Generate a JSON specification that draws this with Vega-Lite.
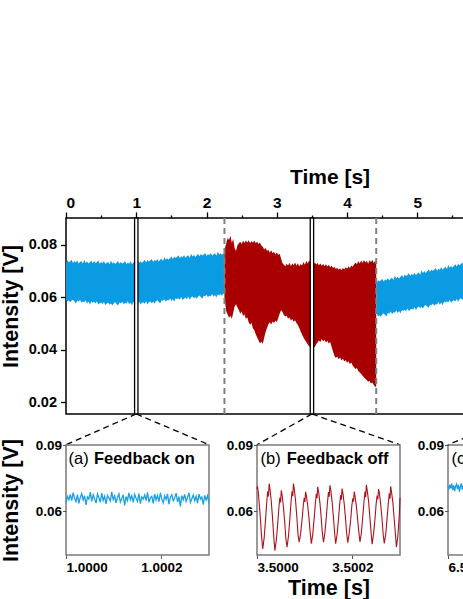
{
  "$schema": "https://vega.github.io/schema/vega-lite/v6.json",
  "autosize": "none",
  "padding": {"left": 66, "top": 218, "right": 397, "bottom": 381},
  "background": "white",
  "config": {
    "font": "Liberation Sans",
    "view": {"stroke": null},
    "axis": {"labelFont": "Liberation Sans", "labelFontWeight": "bold", "titleFont": "Liberation Sans", "titleFontWeight": "bold", "labelColor": "black", "titleColor": "black", "tickColor": "black", "domain": false, "grid": false}
  },
  "datasets": {
    "main": [
      {"g":"b1","s":"on","t":0.00,"lo":0.0592,"hi":0.0733},{"g":"b1","s":"on","t":0.02,"lo":0.0585,"hi":0.0741},{"g":"b1","s":"on","t":0.04,"lo":0.0588,"hi":0.0734},{"g":"b1","s":"on","t":0.06,"lo":0.0581,"hi":0.0737},{"g":"b1","s":"on","t":0.08,"lo":0.0588,"hi":0.0743},{"g":"b1","s":"on","t":0.10,"lo":0.0591,"hi":0.0731},{"g":"b1","s":"on","t":0.12,"lo":0.0584,"hi":0.0738},{"g":"b1","s":"on","t":0.14,"lo":0.0577,"hi":0.0733},{"g":"b1","s":"on","t":0.16,"lo":0.0588,"hi":0.0740},{"g":"b1","s":"on","t":0.18,"lo":0.0584,"hi":0.0729},
      {"g":"b1","s":"on","t":0.20,"lo":0.0590,"hi":0.0735},{"g":"b1","s":"on","t":0.22,"lo":0.0580,"hi":0.0738},{"g":"b1","s":"on","t":0.24,"lo":0.0584,"hi":0.0728},{"g":"b1","s":"on","t":0.26,"lo":0.0581,"hi":0.0743},{"g":"b1","s":"on","t":0.28,"lo":0.0589,"hi":0.0731},{"g":"b1","s":"on","t":0.30,"lo":0.0577,"hi":0.0736},{"g":"b1","s":"on","t":0.32,"lo":0.0584,"hi":0.0729},{"g":"b1","s":"on","t":0.34,"lo":0.0572,"hi":0.0734},{"g":"b1","s":"on","t":0.36,"lo":0.0585,"hi":0.0740},{"g":"b1","s":"on","t":0.38,"lo":0.0579,"hi":0.0730},
      {"g":"b1","s":"on","t":0.40,"lo":0.0583,"hi":0.0738},{"g":"b1","s":"on","t":0.42,"lo":0.0577,"hi":0.0731},{"g":"b1","s":"on","t":0.44,"lo":0.0585,"hi":0.0734},{"g":"b1","s":"on","t":0.46,"lo":0.0573,"hi":0.0740},{"g":"b1","s":"on","t":0.48,"lo":0.0578,"hi":0.0728},{"g":"b1","s":"on","t":0.50,"lo":0.0580,"hi":0.0735},{"g":"b1","s":"on","t":0.52,"lo":0.0574,"hi":0.0730},{"g":"b1","s":"on","t":0.54,"lo":0.0582,"hi":0.0738},{"g":"b1","s":"on","t":0.56,"lo":0.0570,"hi":0.0727},{"g":"b1","s":"on","t":0.58,"lo":0.0577,"hi":0.0732},
      {"g":"b1","s":"on","t":0.60,"lo":0.0580,"hi":0.0735},{"g":"b1","s":"on","t":0.62,"lo":0.0573,"hi":0.0725},{"g":"b1","s":"on","t":0.64,"lo":0.0577,"hi":0.0740},{"g":"b1","s":"on","t":0.66,"lo":0.0570,"hi":0.0729},{"g":"b1","s":"on","t":0.68,"lo":0.0578,"hi":0.0734},{"g":"b1","s":"on","t":0.70,"lo":0.0582,"hi":0.0727},{"g":"b1","s":"on","t":0.72,"lo":0.0575,"hi":0.0732},{"g":"b1","s":"on","t":0.74,"lo":0.0569,"hi":0.0738},{"g":"b1","s":"on","t":0.76,"lo":0.0580,"hi":0.0728},{"g":"b1","s":"on","t":0.78,"lo":0.0577,"hi":0.0735},
      {"g":"b1","s":"on","t":0.80,"lo":0.0583,"hi":0.0729},{"g":"b1","s":"on","t":0.82,"lo":0.0574,"hi":0.0732},{"g":"b1","s":"on","t":0.84,"lo":0.0579,"hi":0.0738},{"g":"b1","s":"on","t":0.86,"lo":0.0576,"hi":0.0726},{"g":"b1","s":"on","t":0.88,"lo":0.0585,"hi":0.0733},{"g":"b1","s":"on","t":0.90,"lo":0.0573,"hi":0.0728},{"g":"b1","s":"on","t":0.92,"lo":0.0580,"hi":0.0737},{"g":"b1","s":"on","t":0.94,"lo":0.0569,"hi":0.0726},{"g":"b1","s":"on","t":0.96,"lo":0.0583,"hi":0.0733},{"g":"b1","s":"on","t":0.98,"lo":0.0578,"hi":0.0736},
      {"g":"b1","s":"on","t":1.00,"lo":0.0582,"hi":0.0727},{"g":"b1","s":"on","t":1.02,"lo":0.0576,"hi":0.0742},{"g":"b1","s":"on","t":1.04,"lo":0.0585,"hi":0.0732},{"g":"b1","s":"on","t":1.06,"lo":0.0573,"hi":0.0737},{"g":"b1","s":"on","t":1.08,"lo":0.0579,"hi":0.0731},{"g":"b1","s":"on","t":1.10,"lo":0.0581,"hi":0.0736},{"g":"b1","s":"on","t":1.12,"lo":0.0576,"hi":0.0743},{"g":"b1","s":"on","t":1.14,"lo":0.0585,"hi":0.0733},{"g":"b1","s":"on","t":1.16,"lo":0.0573,"hi":0.0742},{"g":"b1","s":"on","t":1.18,"lo":0.0581,"hi":0.0736},
      {"g":"b1","s":"on","t":1.20,"lo":0.0584,"hi":0.0740},{"g":"b1","s":"on","t":1.22,"lo":0.0578,"hi":0.0746},{"g":"b1","s":"on","t":1.24,"lo":0.0583,"hi":0.0735},{"g":"b1","s":"on","t":1.26,"lo":0.0577,"hi":0.0742},{"g":"b1","s":"on","t":1.28,"lo":0.0585,"hi":0.0738},{"g":"b1","s":"on","t":1.30,"lo":0.0589,"hi":0.0746},{"g":"b1","s":"on","t":1.32,"lo":0.0583,"hi":0.0736},{"g":"b1","s":"on","t":1.34,"lo":0.0577,"hi":0.0743},{"g":"b1","s":"on","t":1.36,"lo":0.0589,"hi":0.0747},{"g":"b1","s":"on","t":1.38,"lo":0.0587,"hi":0.0738},
      {"g":"b1","s":"on","t":1.40,"lo":0.0593,"hi":0.0753},{"g":"b1","s":"on","t":1.42,"lo":0.0584,"hi":0.0743},{"g":"b1","s":"on","t":1.44,"lo":0.0590,"hi":0.0749},{"g":"b1","s":"on","t":1.46,"lo":0.0588,"hi":0.0743},{"g":"b1","s":"on","t":1.48,"lo":0.0597,"hi":0.0749},{"g":"b1","s":"on","t":1.50,"lo":0.0586,"hi":0.0755},{"g":"b1","s":"on","t":1.52,"lo":0.0594,"hi":0.0746},{"g":"b1","s":"on","t":1.54,"lo":0.0583,"hi":0.0755},{"g":"b1","s":"on","t":1.56,"lo":0.0597,"hi":0.0750},{"g":"b1","s":"on","t":1.58,"lo":0.0593,"hi":0.0754},
      {"g":"b1","s":"on","t":1.60,"lo":0.0597,"hi":0.0760},{"g":"b1","s":"on","t":1.62,"lo":0.0592,"hi":0.0749},{"g":"b1","s":"on","t":1.64,"lo":0.0601,"hi":0.0757},{"g":"b1","s":"on","t":1.66,"lo":0.0590,"hi":0.0752},{"g":"b1","s":"on","t":1.68,"lo":0.0596,"hi":0.0761},{"g":"b1","s":"on","t":1.70,"lo":0.0599,"hi":0.0750},{"g":"b1","s":"on","t":1.72,"lo":0.0593,"hi":0.0756},{"g":"b1","s":"on","t":1.74,"lo":0.0603,"hi":0.0760},{"g":"b1","s":"on","t":1.76,"lo":0.0591,"hi":0.0750},{"g":"b1","s":"on","t":1.78,"lo":0.0600,"hi":0.0766},
      {"g":"b1","s":"on","t":1.80,"lo":0.0603,"hi":0.0755},{"g":"b1","s":"on","t":1.82,"lo":0.0597,"hi":0.0761},{"g":"b1","s":"on","t":1.84,"lo":0.0601,"hi":0.0754},{"g":"b1","s":"on","t":1.86,"lo":0.0595,"hi":0.0759},{"g":"b1","s":"on","t":1.88,"lo":0.0603,"hi":0.0766},{"g":"b1","s":"on","t":1.90,"lo":0.0607,"hi":0.0756},{"g":"b1","s":"on","t":1.92,"lo":0.0600,"hi":0.0765},{"g":"b1","s":"on","t":1.94,"lo":0.0595,"hi":0.0759},{"g":"b1","s":"on","t":1.96,"lo":0.0606,"hi":0.0763},{"g":"b1","s":"on","t":1.98,"lo":0.0604,"hi":0.0769},
      {"g":"b1","s":"on","t":2.00,"lo":0.0610,"hi":0.0757},{"g":"b1","s":"on","t":2.02,"lo":0.0601,"hi":0.0765},{"g":"b1","s":"on","t":2.04,"lo":0.0606,"hi":0.0760},{"g":"b1","s":"on","t":2.06,"lo":0.0604,"hi":0.0769},{"g":"b1","s":"on","t":2.08,"lo":0.0613,"hi":0.0758},{"g":"b1","s":"on","t":2.10,"lo":0.0602,"hi":0.0764},{"g":"b1","s":"on","t":2.12,"lo":0.0609,"hi":0.0768},{"g":"b1","s":"on","t":2.14,"lo":0.0599,"hi":0.0758},{"g":"b1","s":"on","t":2.16,"lo":0.0612,"hi":0.0774},{"g":"b1","s":"on","t":2.18,"lo":0.0608,"hi":0.0763},
      {"g":"b1","s":"on","t":2.20,"lo":0.0612,"hi":0.0768},{"g":"b1","s":"on","t":2.22,"lo":0.0606,"hi":0.0762},{"g":"b1","s":"on","t":2.24,"lo":0.0616,"hi":0.0767},{"g":"b1","s":"on","t":2.255,"lo":0.0610,"hi":0.0766},
      {"g":"r","s":"off","t":2.255,"lo":0.0600,"hi":0.0780},{"g":"r","s":"off","t":2.28,"lo":0.0548,"hi":0.0805},{"g":"r","s":"off","t":2.30,"lo":0.0535,"hi":0.0826},{"g":"r","s":"off","t":2.32,"lo":0.0522,"hi":0.0818},{"g":"r","s":"off","t":2.34,"lo":0.0530,"hi":0.0834},{"g":"r","s":"off","t":2.36,"lo":0.0519,"hi":0.0808},{"g":"r","s":"off","t":2.38,"lo":0.0541,"hi":0.0822},{"g":"r","s":"off","t":2.40,"lo":0.0566,"hi":0.0787},{"g":"r","s":"off","t":2.42,"lo":0.0574,"hi":0.0776},{"g":"r","s":"off","t":2.44,"lo":0.0561,"hi":0.0798},
      {"g":"r","s":"off","t":2.46,"lo":0.0552,"hi":0.0806},{"g":"r","s":"off","t":2.48,"lo":0.0538,"hi":0.0812},{"g":"r","s":"off","t":2.50,"lo":0.0547,"hi":0.0803},{"g":"r","s":"off","t":2.52,"lo":0.0529,"hi":0.0815},{"g":"r","s":"off","t":2.54,"lo":0.0536,"hi":0.0807},{"g":"r","s":"off","t":2.56,"lo":0.0518,"hi":0.0816},{"g":"r","s":"off","t":2.58,"lo":0.0524,"hi":0.0809},{"g":"r","s":"off","t":2.60,"lo":0.0505,"hi":0.0817},{"g":"r","s":"off","t":2.62,"lo":0.0496,"hi":0.0806},{"g":"r","s":"off","t":2.64,"lo":0.0503,"hi":0.0814},
      {"g":"r","s":"off","t":2.66,"lo":0.0482,"hi":0.0808},{"g":"r","s":"off","t":2.68,"lo":0.0475,"hi":0.0816},{"g":"r","s":"off","t":2.70,"lo":0.0460,"hi":0.0806},{"g":"r","s":"off","t":2.72,"lo":0.0448,"hi":0.0812},{"g":"r","s":"off","t":2.74,"lo":0.0437,"hi":0.0803},{"g":"r","s":"off","t":2.76,"lo":0.0425,"hi":0.0809},{"g":"r","s":"off","t":2.78,"lo":0.0431,"hi":0.0797},{"g":"r","s":"off","t":2.80,"lo":0.0423,"hi":0.0793},{"g":"r","s":"off","t":2.82,"lo":0.0445,"hi":0.0782},{"g":"r","s":"off","t":2.84,"lo":0.0468,"hi":0.0788},
      {"g":"r","s":"off","t":2.86,"lo":0.0483,"hi":0.0776},{"g":"r","s":"off","t":2.88,"lo":0.0498,"hi":0.0781},{"g":"r","s":"off","t":2.90,"lo":0.0505,"hi":0.0770},{"g":"r","s":"off","t":2.92,"lo":0.0497,"hi":0.0779},{"g":"r","s":"off","t":2.94,"lo":0.0508,"hi":0.0768},{"g":"r","s":"off","t":2.96,"lo":0.0502,"hi":0.0774},{"g":"r","s":"off","t":2.98,"lo":0.0512,"hi":0.0763},{"g":"r","s":"off","t":3.00,"lo":0.0506,"hi":0.0771},{"g":"r","s":"off","t":3.02,"lo":0.0521,"hi":0.0762},{"g":"r","s":"off","t":3.04,"lo":0.0538,"hi":0.0766},
      {"g":"r","s":"off","t":3.06,"lo":0.0551,"hi":0.0748},{"g":"r","s":"off","t":3.08,"lo":0.0545,"hi":0.0731},{"g":"r","s":"off","t":3.10,"lo":0.0533,"hi":0.0724},{"g":"r","s":"off","t":3.12,"lo":0.0527,"hi":0.0718},{"g":"r","s":"off","t":3.14,"lo":0.0531,"hi":0.0728},{"g":"r","s":"off","t":3.16,"lo":0.0519,"hi":0.0721},{"g":"r","s":"off","t":3.18,"lo":0.0524,"hi":0.0732},{"g":"r","s":"off","t":3.20,"lo":0.0512,"hi":0.0719},{"g":"r","s":"off","t":3.22,"lo":0.0518,"hi":0.0729},{"g":"r","s":"off","t":3.24,"lo":0.0507,"hi":0.0722},
      {"g":"r","s":"off","t":3.26,"lo":0.0513,"hi":0.0733},{"g":"r","s":"off","t":3.28,"lo":0.0502,"hi":0.0720},{"g":"r","s":"off","t":3.30,"lo":0.0495,"hi":0.0730},{"g":"r","s":"off","t":3.32,"lo":0.0483,"hi":0.0718},{"g":"r","s":"off","t":3.34,"lo":0.0470,"hi":0.0727},{"g":"r","s":"off","t":3.36,"lo":0.0458,"hi":0.0721},{"g":"r","s":"off","t":3.38,"lo":0.0447,"hi":0.0735},{"g":"r","s":"off","t":3.40,"lo":0.0438,"hi":0.0724},{"g":"r","s":"off","t":3.42,"lo":0.0430,"hi":0.0738},{"g":"r","s":"off","t":3.44,"lo":0.0421,"hi":0.0729},
      {"g":"r","s":"off","t":3.46,"lo":0.0414,"hi":0.0741},{"g":"r","s":"off","t":3.48,"lo":0.0410,"hi":0.0731},{"g":"r","s":"off","t":3.50,"lo":0.0406,"hi":0.0737},{"g":"r","s":"off","t":3.52,"lo":0.0415,"hi":0.0726},{"g":"r","s":"off","t":3.54,"lo":0.0409,"hi":0.0733},{"g":"r","s":"off","t":3.56,"lo":0.0422,"hi":0.0725},{"g":"r","s":"off","t":3.58,"lo":0.0428,"hi":0.0731},{"g":"r","s":"off","t":3.60,"lo":0.0436,"hi":0.0722},{"g":"r","s":"off","t":3.62,"lo":0.0430,"hi":0.0729},{"g":"r","s":"off","t":3.64,"lo":0.0441,"hi":0.0720},
      {"g":"r","s":"off","t":3.66,"lo":0.0433,"hi":0.0727},{"g":"r","s":"off","t":3.68,"lo":0.0439,"hi":0.0718},{"g":"r","s":"off","t":3.70,"lo":0.0428,"hi":0.0726},{"g":"r","s":"off","t":3.72,"lo":0.0435,"hi":0.0717},{"g":"r","s":"off","t":3.74,"lo":0.0424,"hi":0.0724},{"g":"r","s":"off","t":3.76,"lo":0.0430,"hi":0.0715},{"g":"r","s":"off","t":3.78,"lo":0.0412,"hi":0.0721},{"g":"r","s":"off","t":3.80,"lo":0.0394,"hi":0.0712},{"g":"r","s":"off","t":3.82,"lo":0.0378,"hi":0.0716},{"g":"r","s":"off","t":3.84,"lo":0.0369,"hi":0.0708},
      {"g":"r","s":"off","t":3.86,"lo":0.0375,"hi":0.0713},{"g":"r","s":"off","t":3.88,"lo":0.0364,"hi":0.0705},{"g":"r","s":"off","t":3.90,"lo":0.0371,"hi":0.0711},{"g":"r","s":"off","t":3.92,"lo":0.0360,"hi":0.0703},{"g":"r","s":"off","t":3.94,"lo":0.0367,"hi":0.0712},{"g":"r","s":"off","t":3.96,"lo":0.0356,"hi":0.0706},{"g":"r","s":"off","t":3.98,"lo":0.0362,"hi":0.0715},{"g":"r","s":"off","t":4.00,"lo":0.0351,"hi":0.0709},{"g":"r","s":"off","t":4.02,"lo":0.0357,"hi":0.0718},{"g":"r","s":"off","t":4.04,"lo":0.0346,"hi":0.0711},
      {"g":"r","s":"off","t":4.06,"lo":0.0352,"hi":0.0721},{"g":"r","s":"off","t":4.08,"lo":0.0341,"hi":0.0716},{"g":"r","s":"off","t":4.10,"lo":0.0334,"hi":0.0725},{"g":"r","s":"off","t":4.12,"lo":0.0327,"hi":0.0733},{"g":"r","s":"off","t":4.14,"lo":0.0331,"hi":0.0726},{"g":"r","s":"off","t":4.16,"lo":0.0320,"hi":0.0737},{"g":"r","s":"off","t":4.18,"lo":0.0314,"hi":0.0729},{"g":"r","s":"off","t":4.20,"lo":0.0309,"hi":0.0740},{"g":"r","s":"off","t":4.22,"lo":0.0302,"hi":0.0731},{"g":"r","s":"off","t":4.24,"lo":0.0296,"hi":0.0742},
      {"g":"r","s":"off","t":4.26,"lo":0.0290,"hi":0.0733},{"g":"r","s":"off","t":4.28,"lo":0.0285,"hi":0.0739},{"g":"r","s":"off","t":4.30,"lo":0.0279,"hi":0.0728},{"g":"r","s":"off","t":4.32,"lo":0.0283,"hi":0.0741},{"g":"r","s":"off","t":4.34,"lo":0.0272,"hi":0.0734},{"g":"r","s":"off","t":4.36,"lo":0.0276,"hi":0.0743},{"g":"r","s":"off","t":4.38,"lo":0.0266,"hi":0.0731},{"g":"r","s":"off","t":4.40,"lo":0.0259,"hi":0.0738},{"g":"r","s":"off","t":4.415,"lo":0.0262,"hi":0.0735},
      {"g":"b2","s":"on","t":4.415,"lo":0.0545,"hi":0.0650},{"g":"b2","s":"on","t":4.44,"lo":0.0527,"hi":0.0665},{"g":"b2","s":"on","t":4.46,"lo":0.0532,"hi":0.0660},{"g":"b2","s":"on","t":4.48,"lo":0.0526,"hi":0.0664},{"g":"b2","s":"on","t":4.50,"lo":0.0535,"hi":0.0671},{"g":"b2","s":"on","t":4.52,"lo":0.0539,"hi":0.0660},{"g":"b2","s":"on","t":4.54,"lo":0.0533,"hi":0.0668},{"g":"b2","s":"on","t":4.56,"lo":0.0527,"hi":0.0664},{"g":"b2","s":"on","t":4.58,"lo":0.0540,"hi":0.0674},{"g":"b2","s":"on","t":4.60,"lo":0.0538,"hi":0.0664},
      {"g":"b2","s":"on","t":4.62,"lo":0.0546,"hi":0.0671},{"g":"b2","s":"on","t":4.64,"lo":0.0537,"hi":0.0675},{"g":"b2","s":"on","t":4.66,"lo":0.0543,"hi":0.0666},{"g":"b2","s":"on","t":4.68,"lo":0.0541,"hi":0.0682},{"g":"b2","s":"on","t":4.70,"lo":0.0551,"hi":0.0672},{"g":"b2","s":"on","t":4.72,"lo":0.0540,"hi":0.0678},{"g":"b2","s":"on","t":4.74,"lo":0.0548,"hi":0.0672},{"g":"b2","s":"on","t":4.76,"lo":0.0539,"hi":0.0678},{"g":"b2","s":"on","t":4.78,"lo":0.0552,"hi":0.0685},{"g":"b2","s":"on","t":4.80,"lo":0.0548,"hi":0.0676},
      {"g":"b2","s":"on","t":4.82,"lo":0.0553,"hi":0.0686},{"g":"b2","s":"on","t":4.84,"lo":0.0548,"hi":0.0681},{"g":"b2","s":"on","t":4.86,"lo":0.0558,"hi":0.0685},{"g":"b2","s":"on","t":4.88,"lo":0.0547,"hi":0.0692},{"g":"b2","s":"on","t":4.90,"lo":0.0554,"hi":0.0681},{"g":"b2","s":"on","t":4.92,"lo":0.0557,"hi":0.0689},{"g":"b2","s":"on","t":4.94,"lo":0.0553,"hi":0.0685},{"g":"b2","s":"on","t":4.96,"lo":0.0563,"hi":0.0694},{"g":"b2","s":"on","t":4.98,"lo":0.0552,"hi":0.0684},{"g":"b2","s":"on","t":5.00,"lo":0.0561,"hi":0.0691},
      {"g":"b2","s":"on","t":5.02,"lo":0.0565,"hi":0.0695},{"g":"b2","s":"on","t":5.04,"lo":0.0559,"hi":0.0686},{"g":"b2","s":"on","t":5.06,"lo":0.0564,"hi":0.0703},{"g":"b2","s":"on","t":5.08,"lo":0.0558,"hi":0.0693},{"g":"b2","s":"on","t":5.10,"lo":0.0567,"hi":0.0699},{"g":"b2","s":"on","t":5.12,"lo":0.0571,"hi":0.0693},{"g":"b2","s":"on","t":5.14,"lo":0.0565,"hi":0.0699},{"g":"b2","s":"on","t":5.16,"lo":0.0560,"hi":0.0706},{"g":"b2","s":"on","t":5.18,"lo":0.0572,"hi":0.0697},{"g":"b2","s":"on","t":5.20,"lo":0.0570,"hi":0.0706},
      {"g":"b2","s":"on","t":5.22,"lo":0.0577,"hi":0.0701},{"g":"b2","s":"on","t":5.24,"lo":0.0568,"hi":0.0705},{"g":"b2","s":"on","t":5.26,"lo":0.0574,"hi":0.0712},{"g":"b2","s":"on","t":5.28,"lo":0.0573,"hi":0.0701},{"g":"b2","s":"on","t":5.30,"lo":0.0583,"hi":0.0709},{"g":"b2","s":"on","t":5.32,"lo":0.0572,"hi":0.0705},{"g":"b2","s":"on","t":5.34,"lo":0.0580,"hi":0.0715},{"g":"b2","s":"on","t":5.36,"lo":0.0570,"hi":0.0705},{"g":"b2","s":"on","t":5.38,"lo":0.0584,"hi":0.0712},{"g":"b2","s":"on","t":5.40,"lo":0.0580,"hi":0.0716},
      {"g":"b2","s":"on","t":5.42,"lo":0.0585,"hi":0.0707},{"g":"b2","s":"on","t":5.44,"lo":0.0580,"hi":0.0723},{"g":"b2","s":"on","t":5.46,"lo":0.0590,"hi":0.0713},{"g":"b2","s":"on","t":5.48,"lo":0.0579,"hi":0.0719},{"g":"b2","s":"on","t":5.50,"lo":0.0586,"hi":0.0713},{"g":"b2","s":"on","t":5.52,"lo":0.0589,"hi":0.0719},{"g":"b2","s":"on","t":5.54,"lo":0.0584,"hi":0.0726},{"g":"b2","s":"on","t":5.56,"lo":0.0594,"hi":0.0717},{"g":"b2","s":"on","t":5.58,"lo":0.0583,"hi":0.0727},{"g":"b2","s":"on","t":5.60,"lo":0.0593,"hi":0.0722},
      {"g":"b2","s":"on","t":5.62,"lo":0.0597,"hi":0.0726},{"g":"b2","s":"on","t":5.64,"lo":0.0591,"hi":0.0733},{"g":"b2","s":"on","t":5.66,"lo":0.0596,"hi":0.0722},{"g":"b2","s":"on","t":5.68,"lo":0.0590,"hi":0.0730},{"g":"b2","s":"on","t":5.70,"lo":0.0599,"hi":0.0726},{"g":"b2","s":"on","t":5.72,"lo":0.0594,"hi":0.0734}
    ],
    "a": [
      {"t":1.000000,"v":0.0639},{"t":1.000003,"v":0.0666},{"t":1.000006,"v":0.0651},{"t":1.000009,"v":0.0675},{"t":1.000012,"v":0.0647},{"t":1.000015,"v":0.0683},{"t":1.000018,"v":0.0658},{"t":1.000021,"v":0.0643},{"t":1.000024,"v":0.0674},{"t":1.000027,"v":0.0635},
      {"t":1.000030,"v":0.0662},{"t":1.000033,"v":0.0679},{"t":1.000036,"v":0.0650},{"t":1.000039,"v":0.0670},{"t":1.000042,"v":0.0628},{"t":1.000045,"v":0.0664},{"t":1.000048,"v":0.0654},{"t":1.000051,"v":0.0686},{"t":1.000054,"v":0.0644},{"t":1.000057,"v":0.0673},
      {"t":1.000060,"v":0.0655},{"t":1.000063,"v":0.0636},{"t":1.000066,"v":0.0677},{"t":1.000069,"v":0.0660},{"t":1.000072,"v":0.0640},{"t":1.000075,"v":0.0681},{"t":1.000078,"v":0.0648},{"t":1.000081,"v":0.0667},{"t":1.000084,"v":0.0632},{"t":1.000087,"v":0.0671},
      {"t":1.000090,"v":0.0659},{"t":1.000093,"v":0.0646},{"t":1.000096,"v":0.0687},{"t":1.000099,"v":0.0652},{"t":1.000102,"v":0.0669},{"t":1.000105,"v":0.0637},{"t":1.000108,"v":0.0663},{"t":1.000111,"v":0.0678},{"t":1.000114,"v":0.0641},{"t":1.000117,"v":0.0656},
      {"t":1.000120,"v":0.0674},{"t":1.000123,"v":0.0625},{"t":1.000126,"v":0.0666},{"t":1.000129,"v":0.0648},{"t":1.000132,"v":0.0682},{"t":1.000135,"v":0.0651},{"t":1.000138,"v":0.0670},{"t":1.000141,"v":0.0639},{"t":1.000144,"v":0.0675},{"t":1.000147,"v":0.0658},
      {"t":1.000150,"v":0.0644},{"t":1.000153,"v":0.0679},{"t":1.000156,"v":0.0633},{"t":1.000159,"v":0.0664},{"t":1.000162,"v":0.0654},{"t":1.000165,"v":0.0673},{"t":1.000168,"v":0.0647},{"t":1.000171,"v":0.0685},{"t":1.000174,"v":0.0640},{"t":1.000177,"v":0.0660},
      {"t":1.000180,"v":0.0667},{"t":1.000183,"v":0.0635},{"t":1.000186,"v":0.0677},{"t":1.000189,"v":0.0650},{"t":1.000192,"v":0.0671},{"t":1.000195,"v":0.0643},{"t":1.000198,"v":0.0683},{"t":1.000201,"v":0.0655},{"t":1.000204,"v":0.0637},{"t":1.000207,"v":0.0669},
      {"t":1.000210,"v":0.0652},{"t":1.000213,"v":0.0678},{"t":1.000216,"v":0.0631},{"t":1.000219,"v":0.0663},{"t":1.000222,"v":0.0674},{"t":1.000225,"v":0.0646},{"t":1.000228,"v":0.0659},{"t":1.000231,"v":0.0681},{"t":1.000234,"v":0.0641},{"t":1.000237,"v":0.0666},
      {"t":1.000240,"v":0.0621},{"t":1.000243,"v":0.0670},{"t":1.000246,"v":0.0651},{"t":1.000249,"v":0.0675},{"t":1.000252,"v":0.0644},{"t":1.000255,"v":0.0662},{"t":1.000258,"v":0.0682},{"t":1.000261,"v":0.0639},{"t":1.000264,"v":0.0656},{"t":1.000267,"v":0.0673},
      {"t":1.000270,"v":0.0647},{"t":1.000273,"v":0.0667},{"t":1.000276,"v":0.0636},{"t":1.000279,"v":0.0677},{"t":1.000282,"v":0.0654},{"t":1.000285,"v":0.0664},{"t":1.000288,"v":0.0629},{"t":1.000291,"v":0.0671},{"t":1.000294,"v":0.0650},{"t":1.000297,"v":0.0669},{"t":1.000300,"v":0.0633}
    ],
    "b": [
      {"t":3.5,"v":0.0700},{"t":3.500001,"v":0.0712},{"t":3.5000025,"v":0.0690},{"t":3.5000045,"v":0.0640},{"t":3.500007,"v":0.0571},{"t":3.5000095,"v":0.0487},
      {"t":3.500012,"v":0.0428},{"t":3.500015,"v":0.0478},{"t":3.500018,"v":0.0562},{"t":3.5000205,"v":0.0642},{"t":3.5000225,"v":0.0689},{"t":3.500024,"v":0.0666},{"t":3.5000255,"v":0.0725},{"t":3.5000275,"v":0.0695},{"t":3.50003,"v":0.0642},{"t":3.5000325,"v":0.0571},{"t":3.500035,"v":0.0487},
      {"t":3.5000375,"v":0.0420},{"t":3.5000405,"v":0.0467},{"t":3.5000435,"v":0.0543},{"t":3.500046,"v":0.0617},{"t":3.500048,"v":0.0661},{"t":3.5000495,"v":0.0639},{"t":3.500051,"v":0.0694},{"t":3.500053,"v":0.0667},{"t":3.5000555,"v":0.0617},{"t":3.500058,"v":0.0552},{"t":3.5000605,"v":0.0475},
      {"t":3.500063,"v":0.0436},{"t":3.500066,"v":0.0485},{"t":3.500069,"v":0.0566},{"t":3.5000715,"v":0.0644},{"t":3.5000735,"v":0.0690},{"t":3.500075,"v":0.0667},{"t":3.5000765,"v":0.0725},{"t":3.5000785,"v":0.0696},{"t":3.500081,"v":0.0644},{"t":3.5000835,"v":0.0575},{"t":3.500086,"v":0.0494},
      {"t":3.5000885,"v":0.0458},{"t":3.5000915,"v":0.0497},{"t":3.5000945,"v":0.0561},{"t":3.500097,"v":0.0623},{"t":3.500099,"v":0.0660},{"t":3.5001005,"v":0.0641},{"t":3.500102,"v":0.0687},{"t":3.500104,"v":0.0664},{"t":3.5001065,"v":0.0623},{"t":3.500109,"v":0.0568},{"t":3.5001115,"v":0.0504},
      {"t":3.500114,"v":0.0451},{"t":3.500117,"v":0.0495},{"t":3.50012,"v":0.0568},{"t":3.5001225,"v":0.0637},{"t":3.5001245,"v":0.0679},{"t":3.500126,"v":0.0658},{"t":3.5001275,"v":0.0710},{"t":3.5001295,"v":0.0684},{"t":3.500132,"v":0.0637},{"t":3.5001345,"v":0.0575},{"t":3.500137,"v":0.0503},
      {"t":3.5001395,"v":0.0458},{"t":3.5001425,"v":0.0502},{"t":3.5001455,"v":0.0575},{"t":3.500148,"v":0.0644},{"t":3.50015,"v":0.0686},{"t":3.5001515,"v":0.0665},{"t":3.500153,"v":0.0717},{"t":3.500155,"v":0.0691},{"t":3.5001575,"v":0.0644},{"t":3.50016,"v":0.0582},{"t":3.5001625,"v":0.0510},
      {"t":3.500165,"v":0.0451},{"t":3.500168,"v":0.0494},{"t":3.500171,"v":0.0564},{"t":3.5001735,"v":0.0632},{"t":3.5001755,"v":0.0672},{"t":3.500177,"v":0.0652},{"t":3.5001785,"v":0.0702},{"t":3.5001805,"v":0.0677},{"t":3.500183,"v":0.0632},{"t":3.5001855,"v":0.0571},{"t":3.500188,"v":0.0501},
      {"t":3.5001905,"v":0.0456},{"t":3.5001935,"v":0.0499},{"t":3.5001965,"v":0.0559},{"t":3.500199,"v":0.0625},{"t":3.500201,"v":0.0658},{"t":3.5002025,"v":0.0643},{"t":3.500204,"v":0.0688},{"t":3.500206,"v":0.0662},{"t":3.5002085,"v":0.0621},{"t":3.500211,"v":0.0566},{"t":3.5002135,"v":0.0506},
      {"t":3.500216,"v":0.0460},{"t":3.500219,"v":0.0500},{"t":3.500222,"v":0.0577},{"t":3.5002245,"v":0.0642},{"t":3.5002265,"v":0.0688},{"t":3.500228,"v":0.0663},{"t":3.5002295,"v":0.0719},{"t":3.5002315,"v":0.0689},{"t":3.500234,"v":0.0646},{"t":3.5002365,"v":0.0580},{"t":3.500239,"v":0.0512},
      {"t":3.5002415,"v":0.0449},{"t":3.5002445,"v":0.0496},{"t":3.5002475,"v":0.0562},{"t":3.50025,"v":0.0634},{"t":3.500252,"v":0.0670},{"t":3.5002535,"v":0.0654},{"t":3.500255,"v":0.0700},{"t":3.500257,"v":0.0679},{"t":3.5002595,"v":0.0630},{"t":3.500262,"v":0.0573},{"t":3.5002645,"v":0.0499},
      {"t":3.500267,"v":0.0453},{"t":3.50027,"v":0.0493},{"t":3.500273,"v":0.0570},{"t":3.5002755,"v":0.0635},{"t":3.5002775,"v":0.0681},{"t":3.500279,"v":0.0656},{"t":3.5002805,"v":0.0712},{"t":3.5002825,"v":0.0682},{"t":3.500285,"v":0.0639},{"t":3.5002875,"v":0.0573},{"t":3.50029,"v":0.0505},
      {"t":3.5002925,"v":0.0436},{"t":3.5002955,"v":0.0485},{"t":3.5002985,"v":0.0580},{"t":3.5003,"v":0.0660}
    ],
    "c": [
      {"t":6.5,"v":0.0712},{"t":6.500002,"v":0.0698},{"t":6.500004,"v":0.0720},{"t":6.500006,"v":0.0703},{"t":6.500008,"v":0.0724},{"t":6.50001,"v":0.0695},{"t":6.500012,"v":0.0716},{"t":6.500014,"v":0.0690},{"t":6.500016,"v":0.0713},{"t":6.500018,"v":0.0722},
      {"t":6.50002,"v":0.0700},{"t":6.500022,"v":0.0719},{"t":6.500024,"v":0.0688},{"t":6.500026,"v":0.0709},{"t":6.500028,"v":0.0726},{"t":6.50003,"v":0.0697},{"t":6.500032,"v":0.0714},{"t":6.500034,"v":0.0702},{"t":6.500036,"v":0.0721},{"t":6.500038,"v":0.0694},
      {"t":6.50004,"v":0.0711},{"t":6.50005,"v":0.0699},{"t":6.50006,"v":0.0718},{"t":6.50007,"v":0.0704},{"t":6.50008,"v":0.0690},{"t":6.50009,"v":0.0715},{"t":6.5001,"v":0.0707},{"t":6.50011,"v":0.0722},{"t":6.50012,"v":0.0696},{"t":6.50013,"v":0.0712},
      {"t":6.50014,"v":0.0701},{"t":6.50015,"v":0.0719},{"t":6.50016,"v":0.0693},{"t":6.50017,"v":0.0710},{"t":6.50018,"v":0.0724},{"t":6.50019,"v":0.0698},{"t":6.5002,"v":0.0713},{"t":6.50021,"v":0.0705},{"t":6.50022,"v":0.0720},{"t":6.50023,"v":0.0692},
      {"t":6.50024,"v":0.0709},{"t":6.50025,"v":0.0717},{"t":6.50026,"v":0.0700},{"t":6.50027,"v":0.0714},{"t":6.50028,"v":0.0695},{"t":6.50029,"v":0.0711},{"t":6.5003,"v":0.0703}
    ],
    "zoom": [{"a":0.976,"b":1.024},{"a":3.476,"b":3.524}],
    "sw": [{"t":2.255},{"t":4.415}],
    "conn": [
      {"x1":1.0,"y1":0.0156,"x2":0.0,"y2":0.0039},{"x1":1.0,"y1":0.0156,"x2":2.035,"y2":0.0039},
      {"x1":3.5,"y1":0.0156,"x2":2.718,"y2":0.0039},{"x1":3.5,"y1":0.0156,"x2":4.753,"y2":0.0039},
      {"x1":6.5,"y1":0.0156,"x2":5.436,"y2":0.0039},{"x1":6.5,"y1":0.0156,"x2":7.471,"y2":0.0039}
    ],
    "one": [{}]
  },
  "bounds": "flush",
  "spacing": 31,
  "vconcat": [
    {
      "width": 527,
      "height": 196,
      "view": {"stroke": "black", "strokeWidth": 1.5},
      "resolve": {"axis": {"x": "independent", "y": "independent"}},
      "layer": [
        {
          "data": {"name": "main"},
          "mark": {"type": "area", "opacity": 1},
          "encoding": {
            "x": {"field": "t", "type": "quantitative", "scale": {"domain": [0, 7.5], "nice": false, "zero": false},
              "axis": {"orient": "top", "values": [0,1,2,3,4,5,6,7], "format": "d", "tickSize": 6, "tickWidth": 1.3, "labelFontSize": 15.5, "labelPadding": 2, "title": "Time [s]", "titleFontSize": 21, "titlePadding": 8}},
            "y": {"field": "lo", "type": "quantitative", "stack": null, "scale": {"domain": [0.0156, 0.0902], "nice": false, "zero": false},
              "axis": {"values": [0.02, 0.04, 0.06, 0.08], "format": ".2f", "tickSize": 5.5, "tickWidth": 1.3, "labelFontSize": 14.5, "labelPadding": 4, "title": "Intensity [V]", "titleFontSize": 21.5, "titlePadding": 5.5, "titleY": 88}},
            "y2": {"field": "hi"},
            "color": {"field": "s", "type": "nominal", "scale": {"domain": ["on", "off"], "range": ["#0a9be3", "#a80000"]}, "legend": null},
            "detail": {"field": "g"}
          }
        },
        {
          "data": {"name": "zoom"},
          "mark": {"type": "rect", "fill": "white", "stroke": "black", "strokeWidth": 1.3},
          "encoding": {
            "x": {"field": "a", "type": "quantitative", "axis": null},
            "x2": {"field": "b"}
          }
        },
        {
          "data": {"name": "sw"},
          "mark": {"type": "rule", "color": "#808080", "strokeWidth": 2, "strokeDash": [6, 4]},
          "encoding": {
            "x": {"field": "t", "type": "quantitative",
              "axis": {"orient": "top", "values": [0.5,1.5,2.5,3.5,4.5,5.5,6.5], "labels": false, "tickSize": 3, "tickWidth": 1.3, "title": null}}
          }
        },
        {
          "data": {"name": "conn"},
          "mark": {"type": "rule", "color": "black", "strokeWidth": 1.3, "strokeDash": [6, 4]},
          "encoding": {
            "x": {"field": "x1", "type": "quantitative", "axis": null},
            "y": {"field": "y1", "type": "quantitative", "axis": null},
            "x2": {"field": "x2"},
            "y2": {"field": "y2"}
          }
        }
      ]
    },
    {
      "bounds": "flush",
      "spacing": 48,
      "hconcat": [
        {
          "width": 143, "height": 110,
          "view": {"stroke": "#7a7a7a", "strokeWidth": 1.5},
          "layer": [
            {
              "data": {"name": "a"},
              "mark": {"type": "line", "color": "#1a9fe6", "strokeWidth": 1.3},
              "encoding": {
                "x": {"field": "t", "type": "quantitative", "scale": {"domain": [1.0, 1.0003], "nice": false, "zero": false},
                  "axis": {"values": [1.0, 1.0002], "format": ".4f", "tickSize": 3.5, "tickColor": "#555", "labelFontSize": 13.5, "labelPadding": 2, "title": null}},
                "y": {"field": "v", "type": "quantitative", "scale": {"domain": [0.04, 0.09], "nice": false, "zero": false},
                  "axis": {"values": [0.06, 0.09], "format": ".2f", "tickSize": 3.5, "tickColor": "#555", "labelFontSize": 13.5, "labelPadding": 1, "title": "Intensity [V]", "titleFontSize": 21.5, "titlePadding": 13}}
              }
            },
            {
              "data": {"name": "one"},
              "mark": {"type": "text", "text": "(a)", "fontSize": 16.5, "fontWeight": "normal", "align": "left", "baseline": "alphabetic", "color": "black"},
              "encoding": {"x": {"datum": 1.0000055, "type": "quantitative"}, "y": {"datum": 0.0812, "type": "quantitative"}}
            },
            {
              "data": {"name": "one"},
              "mark": {"type": "text", "text": "Feedback on", "fontSize": 16.5, "fontWeight": "bold", "align": "left", "baseline": "alphabetic", "color": "black"},
              "encoding": {"x": {"datum": 1.0000585, "type": "quantitative"}, "y": {"datum": 0.0812, "type": "quantitative"}}
            }
          ]
        },
        {
          "width": 143, "height": 110,
          "view": {"stroke": "#7a7a7a", "strokeWidth": 1.5},
          "layer": [
            {
              "data": {"name": "b"},
              "mark": {"type": "line", "color": "#b0101a", "strokeWidth": 1.1},
              "encoding": {
                "x": {"field": "t", "type": "quantitative", "scale": {"domain": [3.5, 3.5003], "nice": false, "zero": false},
                  "axis": {"values": [3.5, 3.5002], "format": ".4f", "tickSize": 3.5, "tickColor": "#555", "labelFontSize": 13.5, "labelPadding": 2, "title": "Time [s]", "titleFontSize": 21.5, "titlePadding": 3}},
                "y": {"field": "v", "type": "quantitative", "scale": {"domain": [0.04, 0.09], "nice": false, "zero": false},
                  "axis": {"values": [0.06, 0.09], "format": ".2f", "tickSize": 3.5, "tickColor": "#555", "labelFontSize": 13.5, "labelPadding": 1, "title": null}}
              }
            },
            {
              "data": {"name": "one"},
              "mark": {"type": "text", "text": "(b)", "fontSize": 16.5, "fontWeight": "normal", "align": "left", "baseline": "alphabetic", "color": "black"},
              "encoding": {"x": {"datum": 3.5000075, "type": "quantitative"}, "y": {"datum": 0.0812, "type": "quantitative"}}
            },
            {
              "data": {"name": "one"},
              "mark": {"type": "text", "text": "Feedback off", "fontSize": 16.5, "fontWeight": "bold", "align": "left", "baseline": "alphabetic", "color": "black"},
              "encoding": {"x": {"datum": 3.5000625, "type": "quantitative"}, "y": {"datum": 0.0812, "type": "quantitative"}}
            }
          ]
        },
        {
          "width": 143, "height": 110,
          "view": {"stroke": "#7a7a7a", "strokeWidth": 1.5},
          "layer": [
            {
              "data": {"name": "c"},
              "mark": {"type": "line", "color": "#1a9fe6", "strokeWidth": 1.3},
              "encoding": {
                "x": {"field": "t", "type": "quantitative", "scale": {"domain": [6.5, 6.5003], "nice": false, "zero": false},
                  "axis": {"values": [6.5, 6.5002], "format": ".4f", "tickSize": 3.5, "tickColor": "#555", "labelFontSize": 13.5, "labelPadding": 2, "title": null}},
                "y": {"field": "v", "type": "quantitative", "scale": {"domain": [0.04, 0.09], "nice": false, "zero": false},
                  "axis": {"values": [0.06, 0.09], "format": ".2f", "tickSize": 3.5, "tickColor": "#555", "labelFontSize": 13.5, "labelPadding": 1, "title": null}}
              }
            },
            {
              "data": {"name": "one"},
              "mark": {"type": "text", "text": "(c)", "fontSize": 16.5, "fontWeight": "normal", "align": "left", "baseline": "alphabetic", "color": "black"},
              "encoding": {"x": {"datum": 6.5000075, "type": "quantitative"}, "y": {"datum": 0.0812, "type": "quantitative"}}
            },
            {
              "data": {"name": "one"},
              "mark": {"type": "text", "text": "Feedback on", "fontSize": 16.5, "fontWeight": "bold", "align": "left", "baseline": "alphabetic", "color": "black"},
              "encoding": {"x": {"datum": 6.5000625, "type": "quantitative"}, "y": {"datum": 0.0812, "type": "quantitative"}}
            }
          ]
        }
      ]
    }
  ]
}
